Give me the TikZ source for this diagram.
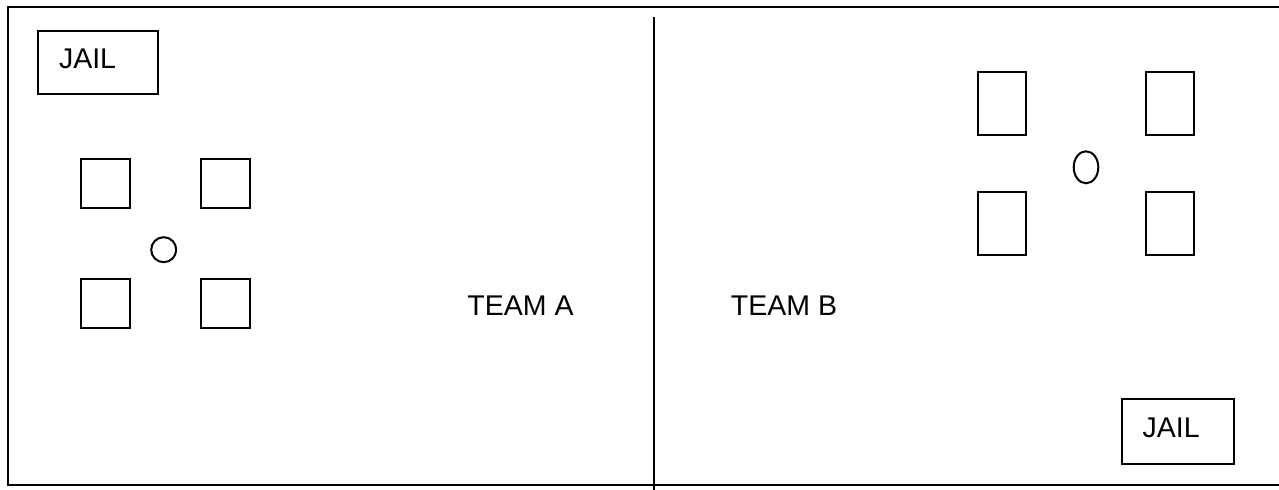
\documentclass[tikz,border=0pt]{standalone}
\usepackage{fontspec}
\setmainfont{Liberation Sans}
\usetikzlibrary{shapes.geometric}
\begin{document}
\begin{tikzpicture}[x=0.5pt,y=-0.5pt,
  line width=1pt,
  every node/.style={font=\fontsize{14.25pt}{17pt}\selectfont},
  jailbox/.style={draw,rectangle,inner xsep=10.5pt,inner ysep=0pt,align=left,text depth=4pt},
  sqbox/.style={draw,rectangle,minimum width=24.5pt,minimum height=24.5pt,inner sep=0pt},
  tallbox/.style={draw,rectangle,minimum width=24.3pt,minimum height=31.5pt,inner sep=0pt},
  ballc/.style={draw,circle,minimum size=12.5pt,inner sep=0pt},
  balle/.style={draw,ellipse,minimum width=12.3pt,minimum height=16pt,inner sep=0pt},
  teamlbl/.style={inner sep=0pt}]
\useasboundingbox (0,0) rectangle (1279,490);
% field outline
\coordinate (tl) at (8,7);
\coordinate (tr) at (1279,7);
\coordinate (bl) at (8,485);
\coordinate (br) at (1279,485);
\draw (tr) -- (tl) -- (bl) -- (br);
% divider
\coordinate (dtop) at (654,17);
\coordinate (dbot) at (654,490);
\draw (dtop) -- (dbot);
% left side
\node[jailbox,text width=39pt,minimum height=31.5pt] (jailA) at (98,62.5) {JAIL};
\node[sqbox] (a1) at (105.2,183.6) {};
\node[sqbox] (a2) at (225.5,183.6) {};
\node[sqbox] (a3) at (105.2,303.3) {};
\node[sqbox] (a4) at (225.5,303.3) {};
\node[ballc] (ballA) at (163.7,249.7) {};
\node[teamlbl] (teamA) at (520.5,306) {TEAM A};
% right side
\node[tallbox] (b1) at (1002,103.8) {};
\node[tallbox] (b2) at (1170,103.8) {};
\node[tallbox] (b3) at (1002,223.8) {};
\node[tallbox] (b4) at (1170,223.8) {};
\node[balle] (ballB) at (1086,167.3) {};
\node[teamlbl] (teamB) at (784,306) {TEAM B};
\node[jailbox,text width=35.3pt,minimum height=32.7pt] (jailB) at (1178,431.3) {JAIL};
\end{tikzpicture}
\end{document}
